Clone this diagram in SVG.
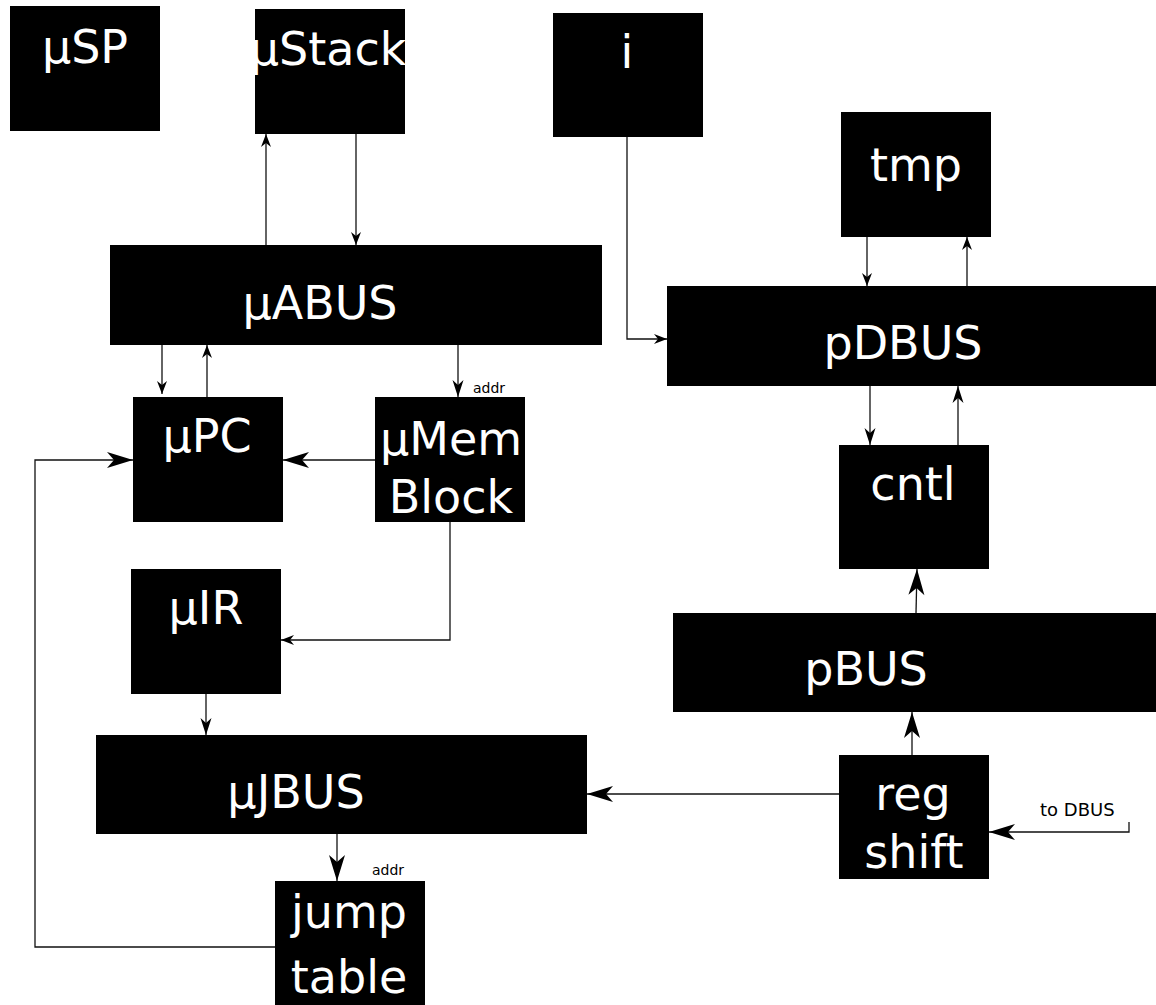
<svg xmlns="http://www.w3.org/2000/svg" width="1156" height="1005" viewBox="0 0 1156 1005">
<style>
.box{fill:#000}
.t{fill:#fff;font-family:"DejaVu Sans",sans-serif;font-size:46px;text-anchor:middle}
.lbl{fill:#000;font-family:"DejaVu Sans",sans-serif}
.c{fill:none;stroke:#111;stroke-width:1.3}
</style>
<defs>
<marker id="s" markerUnits="userSpaceOnUse" markerWidth="16" markerHeight="12" viewBox="-15 -6 16 12" refX="0" refY="0" orient="auto"><path d="M0,0 L-13,-5 L-9,0 L-13,5 Z" fill="#000"/></marker>
<marker id="m" markerUnits="userSpaceOnUse" markerWidth="20" markerHeight="14" viewBox="-19 -7 20 14" refX="0" refY="0" orient="auto"><path d="M0,0 L-17,-5.5 L-12,0 L-17,5.5 Z" fill="#000"/></marker>
<marker id="l" markerUnits="userSpaceOnUse" markerWidth="30" markerHeight="20" viewBox="-29 -10 30 20" refX="0" refY="0" orient="auto"><path d="M0,0 L-26,-8 L-19,0 L-26,8 Z" fill="#000"/></marker>
</defs>
<g id="connectors">
<path class="c" d="M266,245 V134" marker-end="url(#s)"/>
<path class="c" d="M356,134 V245" marker-end="url(#s)"/>
<path class="c" d="M162,345 V394" marker-end="url(#s)"/>
<path class="c" d="M207,397 V345" marker-end="url(#s)"/>
<path class="c" d="M458,345 V397" marker-end="url(#m)"/>
<path class="c" d="M375,460 H283" marker-end="url(#l)"/>
<path class="c" d="M275,947 H35 V460 H133" marker-end="url(#l)"/>
<path class="c" d="M450,522 V640 H281" marker-end="url(#s)"/>
<path class="c" d="M206,694 V735" marker-end="url(#m)"/>
<path class="c" d="M337,834 V881" marker-end="url(#l)"/>
<path class="c" d="M839,794 H587" marker-end="url(#l)"/>
<path class="c" d="M627,137 V339 H667" marker-end="url(#s)"/>
<path class="c" d="M867,237 V286" marker-end="url(#s)"/>
<path class="c" d="M967,286 V237" marker-end="url(#s)"/>
<path class="c" d="M870,386 V445" marker-end="url(#m)"/>
<path class="c" d="M958,445 V386" marker-end="url(#m)"/>
<path class="c" d="M916,613 L917,569" marker-end="url(#l)"/>
<path class="c" d="M912,755 V712" marker-end="url(#l)"/>
<path class="c" d="M1129,822 V832 H989" marker-end="url(#l)"/>
</g>
<g id="uSP"><rect class="box" x="10" y="6" width="150" height="125"/><text class="t" x="85" y="63">μSP</text></g>
<g id="uStack"><rect class="box" x="255" y="9" width="150" height="125"/><text class="t" x="328" y="65">μStack</text></g>
<g id="i"><rect class="box" x="553" y="13" width="150" height="124"/><text class="t" x="627" y="68">i</text></g>
<g id="tmp"><rect class="box" x="841" y="112" width="150" height="125"/><text class="t" x="916" y="181">tmp</text></g>
<g id="uABUS"><rect class="box" x="110" y="245" width="492" height="100"/><text class="t" x="320" y="319">μABUS</text></g>
<g id="pDBUS"><rect class="box" x="667" y="286" width="489" height="100"/><text class="t" x="903" y="359">pDBUS</text></g>
<g id="uPC"><rect class="box" x="133" y="397" width="150" height="125"/><text class="t" x="207" y="452">μPC</text></g>
<g id="uMemBlock"><rect class="box" x="375" y="397" width="150" height="125"/><text class="t" x="451" y="455">μMem</text><text class="t" x="451" y="513">Block</text></g>
<text class="lbl" x="473" y="393" font-size="14">addr</text>
<g id="cntl"><rect class="box" x="839" y="445" width="150" height="124"/><text class="t" x="913" y="500">cntl</text></g>
<g id="uIR"><rect class="box" x="131" y="569" width="150" height="125"/><text class="t" x="206" y="624">μIR</text></g>
<g id="pBUS"><rect class="box" x="673" y="613" width="483" height="99"/><text class="t" x="866" y="685">pBUS</text></g>
<g id="uJBUS"><rect class="box" x="96" y="735" width="491" height="99"/><text class="t" x="296" y="808">μJBUS</text></g>
<g id="regshift"><rect class="box" x="839" y="755" width="150" height="124"/><text class="t" x="913" y="810">reg</text><text class="t" x="914" y="868">shift</text></g>
<text class="lbl" x="1040" y="816" font-size="18">to DBUS</text>
<g id="jumptable"><rect class="box" x="275" y="881" width="150" height="130"/><text class="t" x="349" y="928">jump</text><text class="t" x="349" y="993">table</text></g>
<text class="lbl" x="372" y="875" font-size="14">addr</text>
</svg>
